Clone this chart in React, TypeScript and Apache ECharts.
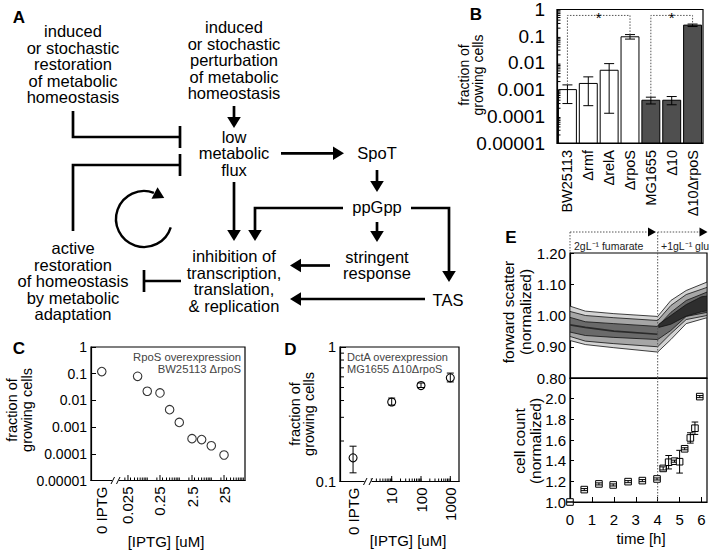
import React, { useEffect, useRef } from 'react';
import * as echarts from 'echarts';

const FONT = '"Liberation Sans", Arial, Helvetica, sans-serif';

// ================= Panel B: fraction of growing cells per strain =================
const bStrains = ['BW25113', 'Δrmf', 'ΔrelA', 'ΔrpoS', 'MG1655', 'Δ10', 'Δ10ΔrpoS'];
const bBackground = ['BW25113', 'BW25113', 'BW25113', 'BW25113', 'MG1655', 'MG1655', 'MG1655'];
const bFraction = [0.001, 0.0017, 0.0053, 0.095, 0.0004, 0.0004, 0.26];
const bErrLow = [0.0003, 0.00025, 0.00013, 0.078, 0.00029, 0.00027, 0.23];
const bErrHigh = [0.0015, 0.003, 0.0094, 0.115, 0.00052, 0.00055, 0.285];
const bSigPairs = [[0, 3], [4, 6]];
const bSigLevel = 0.6;
const bSigMark = '*';
const bYTickValues = [0.00001, 0.0001, 0.001, 0.01, 0.1, 1];
const bYTickLabels = ['0.00001', '0.0001', '0.001', '0.01', '0.1', '1'];

// ================= Panel C: RpoS overexpression =================
const cIptg = [0.05, 0.1, 0.25, 0.5, 1, 2.5, 5, 10, 25];
const cFraction = [0.08, 0.022, 0.019, 0.0045, 0.0015, 0.00037, 0.00034, 0.0002, 0.00009];
const cNoIptgLabel = '0 IPTG';
const cNoIptgFraction = 0.12;
const cXTickValues = [0.025, 0.25, 2.5, 25];
const cXTickLabels = ['0.025', '0.25', '2.5', '25'];
const cYTickValues = [0.00001, 0.0001, 0.001, 0.01, 0.1, 1];
const cYTickLabels = ['0.00001', '0.0001', '0.001', '0.01', '0.1', '1'];

// ================= Panel D: DctA overexpression =================
const dIptg = [10, 100, 1000];
const dFraction = [0.39, 0.517, 0.59];
const dErrLow = [0.37, 0.5, 0.55];
const dErrHigh = [0.417, 0.54, 0.64];
const dNoIptgLabel = '0 IPTG';
const dNoIptgFraction = 0.15;
const dNoIptgErrLow = 0.116;
const dNoIptgErrHigh = 0.183;
const dXTickValues = [10, 100, 1000];
const dXTickLabels = ['10', '100', '1000'];
const dYTickValues = [0.1, 1];
const dYTickLabels = ['0.1', '1'];

// ================= Panel E: forward scatter contours and cell count =================
const eFsTimes = [0, 0.7, 2, 4, 4.6, 5.3, 6.25];
const eFsOuterUpper = [1.03, 1.014, 1.006, 0.997, 1.048, 1.08, 1.107];
const eFsOuterLower = [0.92, 0.907, 0.897, 0.883, 0.923, 0.974, 0.993];
const eFsMidUpper = [1.013, 1.0, 0.993, 0.984, 1.032, 1.067, 1.09];
const eFsMidLower = [0.933, 0.918, 0.91, 0.9, 0.942, 0.987, 1.0];
const eFsInnerUpper = [0.994, 0.98, 0.974, 0.965, 1.01, 1.048, 1.075];
const eFsInnerLower = [0.947, 0.936, 0.93, 0.923, 0.952, 0.997, 1.01];
const eFsCoreTimes = [4.05, 4.6, 5.3, 6, 6.25];
const eFsCoreUpper = [0.972, 1.0, 1.035, 1.06, 1.062];
const eFsCoreLower = [0.962, 0.972, 0.998, 1.012, 1.015];
const eFsRidgeTimes = [0, 0.7, 2, 4];
const eFsRidge = [0.97, 0.962, 0.95, 0.94];
const eCountTimes = [0, 0.65, 1.32, 1.97, 2.65, 3.3, 3.97, 4.25, 4.5, 4.77, 5.0, 5.23, 5.49, 5.7, 5.92];
const eCountValues = [1.0, 1.12, 1.175, 1.165, 1.197, 1.207, 1.223, 1.325, 1.385, 1.395, 1.39, 1.515, 1.62, 1.714, 2.02];
const eCountErr = [0, 0.01, 0.01, 0.01, 0.01, 0.01, 0.01, 0.015, 0.065, 0.01, 0.11, 0.01, 0.05, 0.06, 0.01];
const eShiftTime = 4;
const eMedia = ['2gL⁻¹ fumarate', '+1gL⁻¹ glu'];

// axis extents (log axes carry a "0 IPTG" slot left of the axis break)
const LOG_Y_MIN = 0.00001;
const C_X_MIN = 0.00175;
const C_X_MAX = 113;
const C_NO_IPTG_AT = 0.0038;
const D_X_MIN = 0.172;
const D_X_MAX = 1980;
const D_NO_IPTG_AT = 0.48;
const E_T_MAX = 6.25;

function logFormatter(values: number[], labels: string[]) {
  return (v: number) => {
    for (let i = 0; i < values.length; i++) {
      if (Math.abs(Math.log10(values[i]) - Math.log10(v)) < 1e-6) return labels[i];
    }
    return '';
  };
}

function minorLogTicks(lo: number, hi: number, nFrom = 1) {
  const out: number[] = [];
  for (let k = -6; k <= 4; k++) {
    for (let n = nFrom; n <= 9; n++) {
      const v = n * Math.pow(10, k);
      if (v >= lo * 0.9999 && v <= hi * 1.0001) out.push(v);
    }
  }
  return out;
}

// ---------- Panel A diagram helpers ----------
const LW = 2.7;
const A_FONT = 16.5;
const A_LH = 16.5;
function seg(points: number[][]) {
  return { type: 'polyline', z: 50, shape: { points }, style: { stroke: '#000', lineWidth: LW, fill: 'none' } };
}
function arrowEl(points: number[][]) {
  const n = points.length;
  const [x2, y2] = points[n - 1];
  const [x1, y1] = points[n - 2];
  const len = Math.hypot(x2 - x1, y2 - y1);
  const ux = (x2 - x1) / len;
  const uy = (y2 - y1) / len;
  const hl = 11;
  const hw = 6.8;
  const bx = x2 - ux * hl;
  const by = y2 - uy * hl;
  const pts = points.slice(0, n - 1).concat([[bx + ux * 1, by + uy * 1]]);
  return [
    seg(pts),
    {
      type: 'polygon', z: 50,
      shape: { points: [[x2, y2], [bx - uy * hw, by + ux * hw], [bx + uy * hw, by - ux * hw]] },
      style: { fill: '#000' },
    },
  ];
}
function inhibitEl(points: number[][], half = 11) {
  const n = points.length;
  const [x2, y2] = points[n - 1];
  const [x1, y1] = points[n - 2];
  const len = Math.hypot(x2 - x1, y2 - y1);
  const ux = (x2 - x1) / len;
  const uy = (y2 - y1) / len;
  return [
    seg(points),
    {
      type: 'line', z: 50,
      shape: { x1: x2 - uy * half, y1: y2 + ux * half, x2: x2 + uy * half, y2: y2 - ux * half },
      style: { stroke: '#000', lineWidth: LW },
    },
  ];
}
function txt(text: string, x: number, y: number, o: any = {}) {
  const align = o.align || 'center';
  return {
    type: 'text', x, y, z: 60, rotation: o.rotation || 0,
    style: {
      text, fontSize: o.size || A_FONT, fontFamily: FONT, fontWeight: o.weight || 'normal',
      fill: o.color || '#000', align, textAlign: align, verticalAlign: 'middle', textVerticalAlign: 'middle',
      lineHeight: o.lh || A_LH,
    },
  };
}
function dotted(x1: number, y1: number, x2: number, y2: number) {
  return { type: 'line', z: 50, shape: { x1, y1, x2, y2 }, style: { stroke: '#555', lineWidth: 1, lineDash: [1.5, 1.5] } };
}
function triHead(tipX: number, y: number) {
  return { type: 'polygon', z: 50, shape: { points: [[tipX, y], [tipX - 8, y - 4.5], [tipX - 8, y + 4.5]] }, style: { fill: '#000' } };
}
function breakMark(x: number, y: number) {
  return [
    { type: 'rect', z: 55, shape: { x: x - 3.5, y: y - 2, width: 7, height: 4 }, style: { fill: '#fff' } },
    { type: 'line', z: 56, shape: { x1: x - 4.5, y1: y + 3.5, x2: x - 1, y2: y - 3.5 }, style: { stroke: '#000', lineWidth: 1 } },
    { type: 'line', z: 56, shape: { x1: x + 1, y1: y + 3.5, x2: x + 4.5, y2: y - 3.5 }, style: { stroke: '#000', lineWidth: 1 } },
  ];
}

function circularArrow(cx: number, cy: number, r: number, a0: number, a1: number) {
  const px = cx + r * Math.cos(a1);
  const py = cy + r * Math.sin(a1);
  const dx = -Math.sin(a1);
  const dy = Math.cos(a1);
  const hl = 11;
  const hw = 6.5;
  const tip = [px + dx * hl * 0.75, py + dy * hl * 0.75];
  const base = [px - dx * hl * 0.25, py - dy * hl * 0.25];
  return [
    { type: 'arc', z: 50, shape: { cx, cy, r, startAngle: a0, endAngle: a1 - 0.12, clockwise: true }, style: { stroke: '#000', lineWidth: 2.4, fill: 'none' } },
    {
      type: 'polygon', z: 50,
      shape: { points: [tip, [base[0] - dy * hw, base[1] + dx * hw], [base[0] + dy * hw, base[1] - dx * hw]] },
      style: { fill: '#000' },
    },
  ];
}

function buildOption(): any {
  const axisLine = { show: true, lineStyle: { color: '#000', width: 1.2 } };
  const gridBox = { show: true, borderColor: '#000', borderWidth: 1.2, backgroundColor: 'transparent', containLabel: false };
  const tickLine = { color: '#000', width: 1 };

  // ---------- custom series ----------
  const bBars = {
    type: 'custom', xAxisIndex: 0, yAxisIndex: 0, clip: false, z: 3,
    data: bStrains.map((_, i) => [i, bFraction[i]]),
    renderItem: (params: any, api: any) => {
      const i = params.dataIndex;
      const top = api.coord([i, bFraction[i]]);
      const base = api.coord([i, LOG_Y_MIN])[1];
      const band = api.coord([1, 1])[0] - api.coord([0, 1])[0];
      const w = band * 0.86;
      const hi = api.coord([i, bErrHigh[i]])[1];
      const lo = api.coord([i, bErrLow[i]])[1];
      const cap = 5;
      const dark = bBackground[i] === 'MG1655';
      const ls = { stroke: '#000', lineWidth: 1 };
      return {
        type: 'group',
        children: [
          { type: 'rect', shape: { x: top[0] - w / 2, y: top[1], width: w, height: base - top[1] }, style: { fill: dark ? '#4f4f4f' : '#fff', stroke: '#000', lineWidth: 1 } },
          { type: 'line', shape: { x1: top[0], y1: hi, x2: top[0], y2: lo }, style: ls },
          { type: 'line', shape: { x1: top[0] - cap, y1: hi, x2: top[0] + cap, y2: hi }, style: ls },
          { type: 'line', shape: { x1: top[0] - cap, y1: lo, x2: top[0] + cap, y2: lo }, style: ls },
        ],
      };
    },
  };

  const bMinor = minorLogTicks(0.00001, 1, 2).filter((v) => Math.abs(Math.log10(v) - Math.round(Math.log10(v))) > 1e-6);
  const bMinorTicks = {
    type: 'custom', xAxisIndex: 0, yAxisIndex: 0, clip: false, z: 10,
    data: bMinor.map((v) => [0, v]),
    renderItem: (params: any, api: any) => {
      const y = api.coord([0, bMinor[params.dataIndex]])[1];
      const x = params.coordSys.x;
      return { type: 'line', shape: { x1: x, y1: y, x2: x + 3.5, y2: y }, style: { stroke: '#000', lineWidth: 1 } };
    },
  };

  const bBrackets = {
    type: 'custom', xAxisIndex: 0, yAxisIndex: 0, clip: false, z: 4,
    data: bSigPairs.map((p) => [p[0], bSigLevel]),
    renderItem: (params: any, api: any) => {
      const [i, j] = bSigPairs[params.dataIndex];
      const a = api.coord([i, bErrHigh[i]]);
      const b = api.coord([j, bErrHigh[j]]);
      const top = api.coord([i, bSigLevel])[1];
      return {
        type: 'group',
        children: [
          { type: 'polyline', shape: { points: [[a[0], a[1]], [a[0], top], [b[0], top], [b[0], b[1]]] }, style: { stroke: '#555', lineWidth: 1, lineDash: [1.5, 1.5], fill: 'none' } },
          { type: 'text', x: (a[0] + b[0]) / 2, y: top + 2, style: { text: bSigMark, align: 'center', verticalAlign: 'middle', fontSize: 15, fontFamily: FONT, fill: '#000' } },
        ],
      };
    },
  };

  // generic x-tick series for log x axes (ticks pointing up inside the plot)
  function xTickSeries(xi: number, values: number[], yAt: number, len: number) {
    return {
      type: 'custom', xAxisIndex: xi, yAxisIndex: xi, clip: false, z: 10,
      data: values.map((v) => [v, yAt]),
      renderItem: (params: any, api: any) => {
        const p = api.coord([values[params.dataIndex], yAt]);
        return { type: 'line', shape: { x1: p[0], y1: p[1], x2: p[0], y2: p[1] - len }, style: { stroke: '#000', lineWidth: 1 } };
      },
    };
  }
  function xLabelSeries(xi: number, values: number[], labels: string[], yAt: number) {
    return {
      type: 'custom', xAxisIndex: xi, yAxisIndex: xi, clip: false, z: 10,
      data: values.map((v) => [v, yAt]),
      renderItem: (params: any, api: any) => {
        const p = api.coord([values[params.dataIndex], yAt]);
        return {
          type: 'text', x: p[0], y: p[1] + 6, rotation: Math.PI / 2,
          style: { text: labels[params.dataIndex], align: 'right', verticalAlign: 'middle', fontSize: 15, fontFamily: FONT, fill: '#000' },
        };
      },
    };
  }

  const cMinor = minorLogTicks(0.02, C_X_MAX);
  const dMinor = minorLogTicks(2, D_X_MAX);
  const cLabelPos = [C_NO_IPTG_AT].concat(cXTickValues);
  const cLabelText = [cNoIptgLabel].concat(cXTickLabels);
  const dLabelPos = [D_NO_IPTG_AT].concat(dXTickValues);
  const dLabelText = [dNoIptgLabel].concat(dXTickLabels);

  const cScatter = {
    type: 'scatter', xAxisIndex: 1, yAxisIndex: 1, z: 5,
    symbol: 'circle', symbolSize: 8.5,
    itemStyle: { color: '#fff', borderColor: '#000', borderWidth: 1.1 },
    data: [[C_NO_IPTG_AT, cNoIptgFraction]].concat(cIptg.map((x, i) => [x, cFraction[i]])),
  };

  const dX = [D_NO_IPTG_AT].concat(dIptg);
  const dY = [dNoIptgFraction].concat(dFraction);
  const dLo = [dNoIptgErrLow].concat(dErrLow);
  const dHi = [dNoIptgErrHigh].concat(dErrHigh);
  const dPoints = {
    type: 'custom', xAxisIndex: 2, yAxisIndex: 2, clip: false, z: 5,
    data: dX.map((x, i) => [x, dY[i]]),
    renderItem: (params: any, api: any) => {
      const k = params.dataIndex;
      const c = api.coord([dX[k], dY[k]]);
      const hi = api.coord([dX[k], dHi[k]])[1];
      const lo = api.coord([dX[k], dLo[k]])[1];
      const ls = { stroke: '#000', lineWidth: 1 };
      return {
        type: 'group',
        children: [
          { type: 'circle', shape: { cx: c[0], cy: c[1], r: 4 }, style: { fill: '#fff', stroke: '#000', lineWidth: 1.1 } },
          { type: 'line', shape: { x1: c[0], y1: hi, x2: c[0], y2: lo }, style: ls },
          { type: 'line', shape: { x1: c[0] - 3.5, y1: hi, x2: c[0] + 3.5, y2: hi }, style: ls },
          { type: 'line', shape: { x1: c[0] - 3.5, y1: lo, x2: c[0] + 3.5, y2: lo }, style: ls },
        ],
      };
    },
  };
  const dYMinor = minorLogTicks(0.2, 0.9);
  const dYMinorTicks = {
    type: 'custom', xAxisIndex: 2, yAxisIndex: 2, clip: false, z: 10,
    data: dYMinor.map((v) => [D_X_MIN, v]),
    renderItem: (params: any, api: any) => {
      const y = api.coord([D_X_MIN, dYMinor[params.dataIndex]])[1];
      const x = params.coordSys.x;
      return { type: 'line', shape: { x1: x, y1: y, x2: x + 4, y2: y }, style: { stroke: '#000', lineWidth: 1 } };
    },
  };

  const eBands = [
    { times: eFsTimes, upper: eFsOuterUpper, lower: eFsOuterLower, fill: '#d4d4d4' },
    { times: eFsTimes, upper: eFsMidUpper, lower: eFsMidLower, fill: '#a6a6a6' },
    { times: eFsTimes, upper: eFsInnerUpper, lower: eFsInnerLower, fill: '#6a6a6a' },
    { times: eFsCoreTimes, upper: eFsCoreUpper, lower: eFsCoreLower, fill: '#2e2e2e' },
  ];
  const eBandSeries = {
    type: 'custom', xAxisIndex: 3, yAxisIndex: 3, clip: true, z: 3,
    data: eBands.map((b) => [b.times[0], b.upper[0]]),
    renderItem: (params: any, api: any) => {
      const b = eBands[params.dataIndex];
      const up = b.times.map((t, k) => api.coord([t, b.upper[k]]));
      const dn = b.times.map((t, k) => api.coord([t, b.lower[k]])).reverse();
      return { type: 'polygon', shape: { points: up.concat(dn) }, style: { fill: b.fill, stroke: '#111', lineWidth: 0.8 } };
    },
  };
  const eRidgeSeries = {
    type: 'custom', xAxisIndex: 3, yAxisIndex: 3, clip: true, z: 4,
    data: [[eFsRidgeTimes[0], eFsRidge[0]]],
    renderItem: (params: any, api: any) => ({
      type: 'polyline',
      shape: { points: eFsRidgeTimes.map((t, k) => api.coord([t, eFsRidge[k]])) },
      style: { stroke: '#2a2a2a', lineWidth: 1.6, fill: 'none' },
    }),
  };
  function shiftLine(idx: number, yAt: number) {
    return {
      type: 'custom', xAxisIndex: idx, yAxisIndex: idx, clip: false, z: 6,
      data: [[eShiftTime, yAt]],
      renderItem: (params: any, api: any) => {
        const x = api.coord([eShiftTime, yAt])[0];
        const cs = params.coordSys;
        return { type: 'line', shape: { x1: x, y1: cs.y, x2: x, y2: cs.y + cs.height }, style: { stroke: '#555', lineWidth: 1, lineDash: [1.5, 1.5] } };
      },
    };
  }
  const eCountSeries = {
    type: 'custom', xAxisIndex: 4, yAxisIndex: 4, clip: false, z: 7,
    data: eCountTimes.map((t, k) => [t, eCountValues[k]]),
    renderItem: (params: any, api: any) => {
      const k = params.dataIndex;
      const c = api.coord([eCountTimes[k], eCountValues[k]]);
      const hi = api.coord([eCountTimes[k], eCountValues[k] + eCountErr[k]])[1];
      const lo = api.coord([eCountTimes[k], eCountValues[k] - eCountErr[k]])[1];
      const h = 3.3;
      const ls = { stroke: '#000', lineWidth: 1 };
      return {
        type: 'group',
        children: [
          { type: 'rect', shape: { x: c[0] - h, y: c[1] - h, width: 2 * h, height: 2 * h }, style: { fill: '#fff', stroke: '#000', lineWidth: 1 } },
          { type: 'line', shape: { x1: c[0], y1: hi, x2: c[0], y2: lo }, style: ls },
          { type: 'line', shape: { x1: c[0] - h, y1: hi, x2: c[0] + h, y2: hi }, style: ls },
          { type: 'line', shape: { x1: c[0] - h, y1: lo, x2: c[0] + h, y2: lo }, style: ls },
        ],
      };
    },
  };

  // ---------- graphic (diagram + annotations) ----------
  const g: any[] = [];
  // panel letters
  g.push(txt('A', 19, 17, { size: 17, weight: 'bold' }));
  g.push(txt('B', 476, 14, { size: 17, weight: 'bold' }));
  g.push(txt('C', 19, 348.5, { size: 17, weight: 'bold' }));
  g.push(txt('D', 290.5, 349, { size: 17, weight: 'bold' }));
  g.push(txt('E', 511, 237, { size: 17, weight: 'bold' }));
  // diagram texts
  g.push(txt('induced\nor stochastic\nrestoration\nof metabolic\nhomeostasis', 73, 64));
  g.push(txt('induced\nor stochastic\nperturbation\nof metabolic\nhomeostasis', 234, 60));
  g.push(txt('low\nmetabolic\nflux', 234, 153));
  g.push(txt('SpoT', 377, 153));
  g.push(txt('ppGpp', 377, 207));
  g.push(txt('stringent\nresponse', 377, 265));
  g.push(txt('inhibition of\ntranscription,\ntranslation,\n& replication', 234, 281));
  g.push(txt('TAS', 448, 300));
  g.push(txt('active\nrestoration\nof homeostasis\nby metabolic\nadaptation', 73, 281));
  // diagram arrows
  g.push(...arrowEl([[234, 106], [234, 128]]));
  g.push(...arrowEl([[281, 153.3], [344, 153.3]]));
  g.push(...arrowEl([[377, 170], [377, 192]]));
  g.push(...arrowEl([[234, 182], [234, 241]]));
  g.push(...arrowEl([[343, 208], [255, 208], [255, 241]]));
  g.push(...arrowEl([[411, 208], [449, 208], [449, 282]]));
  g.push(...arrowEl([[377, 222], [377, 242]]));
  g.push(...arrowEl([[330, 265.5], [290, 265.5]]));
  g.push(...arrowEl([[425, 299], [290, 299]]));
  g.push(...inhibitEl([[181, 281], [144, 281]]));
  g.push(...inhibitEl([[73, 111], [73, 137], [180, 137]]));
  g.push(...inhibitEl([[73, 231], [73, 165], [180, 165]]));
  g.push(...circularArrow(144, 219, 28, 0.3, 2 * Math.PI - 1.09));
  // axis names
  g.push(txt('fraction of\ngrowing cells', 471, 75, { size: 14, lh: 14, rotation: Math.PI / 2 }));
  g.push(txt('fraction of\ngrowing cells', 19, 410, { size: 14.5, lh: 15, rotation: Math.PI / 2 }));
  g.push(txt('fraction of\ngrowing cells', 302, 414, { size: 14.5, lh: 14.5, rotation: Math.PI / 2 }));
  g.push(txt('forward scatter\n(normalized)', 517, 312, { size: 15.5, lh: 17, rotation: Math.PI / 2 }));
  g.push(txt('cell count\n(normalized)', 527, 441, { size: 15.5, lh: 16, rotation: Math.PI / 2 }));
  g.push(txt('[IPTG] [uM]', 166, 541, { size: 15 }));
  g.push(txt('[IPTG] [uM]', 408, 540, { size: 15 }));
  g.push(txt('time [h]', 641, 538, { size: 15 }));
  // inset annotations
  g.push(txt('RpoS overexpression\nBW25113 ΔrpoS', 241, 363, { size: 11.3, lh: 12.6, align: 'right', color: '#444' }));
  g.push(txt('DctA overexpression\nMG1655 Δ10ΔrpoS', 347, 363, { size: 11, lh: 12.6, align: 'left', color: '#444' }));
  // axis breaks
  g.push(...breakMark(115.5, 480.5));
  g.push(...breakMark(368, 481.5));
  // E header (growth media)
  g.push(dotted(570, 232, 570, 253));
  g.push(dotted(570, 232, 649, 232));
  g.push(triHead(656, 232));
  g.push(dotted(657.7, 232, 657.7, 253));
  g.push(dotted(657.7, 232, 700, 232));
  g.push(triHead(707.5, 232));
  g.push(txt(eMedia[0], 574, 246, { size: 10.5, lh: 12, align: 'left', color: '#222' }));
  g.push(txt(eMedia[1], 661, 246, { size: 10.5, lh: 12, align: 'left', color: '#222' }));

  return {
    animation: false,
    backgroundColor: '#fff',
    textStyle: { fontFamily: FONT, color: '#000' },
    grid: [
      { ...gridBox, left: 557, top: 8.5, width: 146, height: 134.5 },
      { ...gridBox, left: 91, top: 347, width: 154, height: 133.5 },
      { ...gridBox, left: 340, top: 347, width: 119, height: 134.5 },
      { ...gridBox, left: 570, top: 253, width: 137, height: 125 },
      { ...gridBox, left: 570, top: 378, width: 137, height: 124 },
    ],
    xAxis: [
      {
        gridIndex: 0, type: 'category', data: bStrains, axisLine, axisTick: { show: false },
        axisLabel: { rotate: 90, fontSize: 14.5, margin: 7, color: '#000', interval: 0, fontFamily: FONT },
        splitLine: { show: false },
      },
      { gridIndex: 1, type: 'log', logBase: 10, min: C_X_MIN, max: C_X_MAX, axisLine, axisTick: { show: false }, axisLabel: { show: false }, splitLine: { show: false } },
      { gridIndex: 2, type: 'log', logBase: 10, min: D_X_MIN, max: D_X_MAX, axisLine, axisTick: { show: false }, axisLabel: { show: false }, splitLine: { show: false } },
      { gridIndex: 3, type: 'value', min: 0, max: E_T_MAX, axisLine, axisTick: { show: false }, axisLabel: { show: false }, splitLine: { show: false } },
      {
        gridIndex: 4, type: 'value', min: 0, max: E_T_MAX, interval: 1, axisLine,
        axisTick: { inside: true, length: 5, lineStyle: tickLine },
        axisLabel: { fontSize: 15, margin: 10, color: '#000', showMaxLabel: false, fontFamily: FONT },
        splitLine: { show: false },
      },
    ],
    yAxis: [
      {
        gridIndex: 0, type: 'log', logBase: 10, min: LOG_Y_MIN, max: 1, splitNumber: 5, z: 10, axisLine,
        axisTick: { inside: true, length: 6, lineStyle: tickLine },
        axisLabel: { fontSize: 19, margin: 12, color: '#000', fontFamily: FONT, formatter: logFormatter(bYTickValues, bYTickLabels) },
        splitLine: { show: false },
      },
      {
        gridIndex: 1, type: 'log', logBase: 10, min: LOG_Y_MIN, max: 1, splitNumber: 5, z: 10, axisLine,
        axisTick: { inside: true, length: 5, lineStyle: tickLine },
        axisLabel: { fontSize: 14, margin: 4, color: '#000', fontFamily: FONT, formatter: logFormatter(cYTickValues, cYTickLabels) },
        splitLine: { show: false },
      },
      {
        gridIndex: 2, type: 'log', logBase: 10, min: 0.1, max: 1, z: 10, axisLine,
        axisTick: { inside: true, length: 6, lineStyle: tickLine },
        axisLabel: { fontSize: 14.5, margin: 4, color: '#000', fontFamily: FONT, formatter: logFormatter(dYTickValues, dYTickLabels) },
        splitLine: { show: false },
      },
      {
        gridIndex: 3, type: 'value', min: 0.8, max: 1.2, interval: 0.1, axisLine,
        axisTick: { inside: true, length: 4, lineStyle: tickLine },
        axisLabel: { fontSize: 15, margin: 4, color: '#000', fontFamily: FONT, formatter: (v: number) => v.toFixed(2) },
        splitLine: { show: false },
      },
      {
        gridIndex: 4, type: 'value', min: 1.0, max: 2.2, interval: 0.2, axisLine,
        axisTick: { inside: true, length: 4, lineStyle: tickLine },
        axisLabel: { fontSize: 15, margin: 4, color: '#000', fontFamily: FONT, showMaxLabel: false, formatter: (v: number) => v.toFixed(1) },
        splitLine: { show: false },
      },
    ],
    series: [
      bBars,
      bMinorTicks,
      bBrackets,
      cScatter,
      xTickSeries(1, cMinor, LOG_Y_MIN, 3),
      xTickSeries(1, cXTickValues, LOG_Y_MIN, 5.5),
      xLabelSeries(1, cLabelPos, cLabelText, LOG_Y_MIN),
      dPoints,
      dYMinorTicks,
      xTickSeries(2, dMinor, 0.1, 3),
      xTickSeries(2, dXTickValues, 0.1, 5.5),
      xLabelSeries(2, dLabelPos, dLabelText, 0.1),
      eBandSeries,
      eRidgeSeries,
      shiftLine(3, 1.0),
      shiftLine(4, 1.5),
      eCountSeries,
    ],
    graphic: { elements: g },
  };
}

export default function App() {
  const ref = useRef<HTMLDivElement>(null);
  useEffect(() => {
    const chart = echarts.init(ref.current!, null, { renderer: 'svg' });
    chart.setOption(buildOption());
    return () => chart.dispose();
  }, []);
  return <div ref={ref} style={{ position: 'absolute', left: 0, top: 0, width: 709, height: 552 }} />;
}
